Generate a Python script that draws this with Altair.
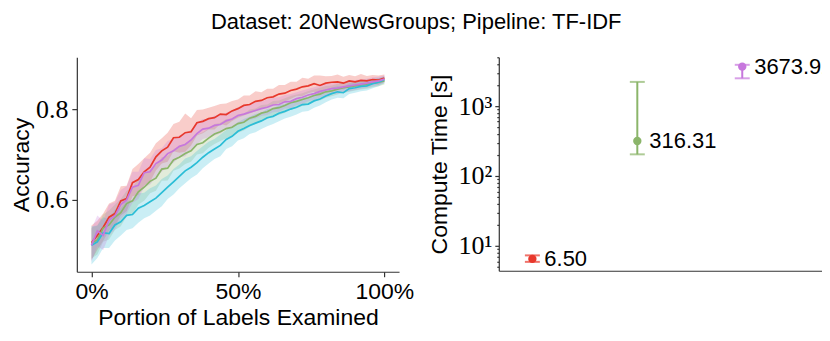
import altair as alt
import pandas as pd

# ---------------- data ----------------
series_names = ["red", "green", "cyan", "purple"]
series_colors = ["#E8382C", "#8BB56A", "#2BBDD6", "#C777DD"]

pct = [0, 2, 4, 6, 8, 10, 12, 14, 16, 18, 20, 22, 24, 26, 28, 30, 32, 34, 36, 38,
       40, 42, 44, 46, 48, 50, 52, 54, 56, 58, 60, 62, 64, 66, 68, 70, 72, 74, 76, 78,
       80, 82, 84, 86, 88, 90, 92, 94, 96, 98, 100]

red_mean = [0.506, 0.522, 0.540, 0.562, 0.570, 0.598, 0.603, 0.638, 0.645, 0.662,
            0.672, 0.695, 0.708, 0.716, 0.737, 0.738, 0.748, 0.750, 0.770, 0.773,
            0.779, 0.781, 0.789, 0.788, 0.796, 0.801, 0.808, 0.810, 0.817, 0.819,
            0.825, 0.827, 0.833, 0.835, 0.841, 0.844, 0.849, 0.851, 0.856, 0.852,
            0.857, 0.859, 0.860, 0.857, 0.862, 0.860, 0.863, 0.862, 0.865, 0.864, 0.868]
red_hw = [0.038, 0.032, 0.030, 0.030, 0.028, 0.032, 0.028, 0.030, 0.034, 0.030,
          0.032, 0.030, 0.028, 0.032, 0.030, 0.034, 0.042, 0.030, 0.028, 0.026,
          0.024, 0.026, 0.022, 0.024, 0.022, 0.020, 0.022, 0.020, 0.022, 0.018,
          0.020, 0.018, 0.020, 0.018, 0.019, 0.016, 0.020, 0.016, 0.018, 0.022,
          0.015, 0.014, 0.016, 0.014, 0.013, 0.012, 0.014, 0.011, 0.010, 0.010, 0.008]

purple_mean = [0.500, 0.532, 0.522, 0.556, 0.565, 0.590, 0.600, 0.628, 0.632, 0.660,
               0.662, 0.680, 0.688, 0.702, 0.708, 0.718, 0.722, 0.732, 0.746, 0.756,
               0.758, 0.764, 0.766, 0.774, 0.778, 0.786, 0.789, 0.793, 0.797, 0.801,
               0.804, 0.809, 0.810, 0.816, 0.817, 0.823, 0.826, 0.831, 0.834, 0.839,
               0.842, 0.845, 0.846, 0.849, 0.851, 0.853, 0.855, 0.857, 0.860, 0.862, 0.866]
purple_hw = [0.036, 0.034, 0.032, 0.034, 0.030, 0.032, 0.030, 0.034, 0.030, 0.032,
             0.028, 0.030, 0.026, 0.028, 0.026, 0.024, 0.026, 0.022, 0.024, 0.022,
             0.020, 0.022, 0.020, 0.018, 0.020, 0.018, 0.019, 0.017, 0.018, 0.016,
             0.017, 0.016, 0.016, 0.015, 0.016, 0.014, 0.015, 0.014, 0.014, 0.013,
             0.013, 0.012, 0.012, 0.011, 0.012, 0.011, 0.010, 0.010, 0.010, 0.009, 0.008]

green_mean = [0.505, 0.512, 0.538, 0.545, 0.562, 0.572, 0.592, 0.598, 0.618, 0.628,
              0.641, 0.648, 0.668, 0.670, 0.688, 0.694, 0.702, 0.708, 0.722, 0.726,
              0.736, 0.745, 0.750, 0.757, 0.760, 0.768, 0.771, 0.780, 0.784, 0.791,
              0.794, 0.801, 0.803, 0.808, 0.814, 0.817, 0.821, 0.825, 0.830, 0.833,
              0.838, 0.840, 0.844, 0.847, 0.849, 0.851, 0.853, 0.855, 0.857, 0.859, 0.862]
green_hw = [0.034, 0.032, 0.030, 0.032, 0.028, 0.030, 0.028, 0.030, 0.028, 0.030,
            0.026, 0.028, 0.026, 0.027, 0.024, 0.025, 0.023, 0.024, 0.022, 0.023,
            0.021, 0.022, 0.020, 0.021, 0.019, 0.020, 0.018, 0.019, 0.017, 0.018,
            0.016, 0.017, 0.016, 0.016, 0.015, 0.015, 0.014, 0.015, 0.013, 0.014,
            0.013, 0.012, 0.012, 0.011, 0.011, 0.010, 0.010, 0.010, 0.009, 0.009, 0.008]

cyan_mean = [0.500, 0.508, 0.528, 0.526, 0.545, 0.552, 0.566, 0.568, 0.582, 0.588,
             0.596, 0.604, 0.616, 0.628, 0.640, 0.652, 0.664, 0.672, 0.682, 0.694,
             0.704, 0.712, 0.720, 0.733, 0.740, 0.751, 0.757, 0.764, 0.769, 0.774,
             0.781, 0.784, 0.791, 0.795, 0.800, 0.804, 0.810, 0.811, 0.818, 0.822,
             0.829, 0.834, 0.838, 0.836, 0.845, 0.847, 0.850, 0.851, 0.856, 0.859, 0.865]
cyan_hw = [0.042, 0.036, 0.034, 0.032, 0.034, 0.030, 0.032, 0.030, 0.032, 0.028,
           0.030, 0.028, 0.030, 0.026, 0.028, 0.026, 0.027, 0.024, 0.026, 0.024,
           0.024, 0.022, 0.024, 0.021, 0.022, 0.020, 0.021, 0.019, 0.020, 0.018,
           0.019, 0.017, 0.018, 0.016, 0.017, 0.016, 0.016, 0.015, 0.015, 0.014,
           0.014, 0.013, 0.013, 0.012, 0.012, 0.011, 0.011, 0.010, 0.010, 0.009, 0.008]

# compute time panel
ct_series = ["red", "green", "purple"]
ct_pos = [0, 1, 2]
ct_value = [6.50, 316.31, 3673.92]
ct_low = [5.9, 204, 2500]
ct_high = [7.3, 2220, 3900]
ct_label = ["6.50", "316.31", "3673.92"]

# ---------------- frames ----------------
curves = {"red": (red_mean, red_hw), "green": (green_mean, green_hw),
          "cyan": (cyan_mean, cyan_hw), "purple": (purple_mean, purple_hw)}
rows = []
for name in series_names:
    m, hw = curves[name]
    for p, v, h in zip(pct, m, hw):
        rows.append({"pct": p, "series": name, "mean": v, "lo": v - h, "hi": v + h})
df_left = pd.DataFrame(rows)

df_right = pd.DataFrame({"pos": ct_pos, "series": ct_series, "val": ct_value,
                         "lo": ct_low, "hi": ct_high, "label": ct_label})

SANS = "Liberation Sans"
SERIF = "Liberation Serif"
AX = "#333333"

color = alt.Color("series:N", scale=alt.Scale(domain=series_names, range=series_colors), legend=None)

xl = alt.X("pct:Q", scale=alt.Scale(domain=[-5, 105], nice=False, zero=False),
           axis=alt.Axis(values=[0, 50, 100], labelExpr="datum.value + '%'",
                         title="Portion of Labels Examined", labelFont=SANS, labelFontSize=23,
                         titleFontSize=23, labelPadding=4, titlePadding=3, labelFlush=False))
yscale_l = alt.Scale(domain=[0.442, 0.914], nice=False, zero=False)
yl_axis = alt.Axis(values=[0.6, 0.8], format=".1f", title="Accuracy", labelFont=SERIF,
                   labelFontSize=26, titleFontSize=23, labelPadding=4, titlePadding=2)

left_base = alt.Chart(df_left)
bands = left_base.mark_area(opacity=0.25).encode(
    x=xl, y=alt.Y("lo:Q", scale=yscale_l, axis=yl_axis), y2="hi:Q", color=color,
    detail="series:N")
lines = left_base.mark_line(strokeWidth=1.7).encode(
    x=xl, y=alt.Y("mean:Q", scale=yscale_l, axis=yl_axis), color=color, detail="series:N")
left = alt.layer(bands, lines).properties(width=323, height=215)

# right panel
minor_vals = [5, 6, 7, 8, 9, 10, 20, 30, 40, 50, 60, 70, 80, 90, 100, 200, 300, 400, 500,
              600, 700, 800, 900, 1000, 2000, 3000, 4000, 5000]
yr_scale = alt.Scale(type="log", domain=[4.4, 5000], nice=False)
yr_axis = alt.Axis(values=minor_vals, title="Compute Time [s]",
                   labelExpr="datum.value == 10 ? '10¹' : datum.value == 100 ? '10²' : datum.value == 1000 ? '10³' : ''",
                   tickSize={"condition": {"test": "datum.value == 10 || datum.value == 100 || datum.value == 1000", "value": 4}, "value": 2},
                   labelFont=SERIF, labelFontSize=26, titleFontSize=23, labelPadding=3, titlePadding=7)
xr = alt.X("pos:Q", scale=alt.Scale(domain=[-0.32, 2.76], nice=False, zero=False),
           axis=alt.Axis(labels=False, ticks=False, title=None))
color_r = alt.Color("series:N", scale=alt.Scale(domain=series_names, range=series_colors), legend=None)

rb = alt.Chart(df_right)
err = rb.mark_rule(strokeWidth=2).encode(x=xr, y=alt.Y("lo:Q", scale=yr_scale, axis=yr_axis), y2="hi:Q", color=color_r)
cap_lo = rb.mark_tick(orient="horizontal", size=15, thickness=2).encode(x=xr, y=alt.Y("lo:Q", scale=yr_scale), color=color_r)
cap_hi = rb.mark_tick(orient="horizontal", size=15, thickness=2).encode(x=xr, y=alt.Y("hi:Q", scale=yr_scale), color=color_r)
pts = rb.mark_circle(size=70, opacity=1).encode(x=xr, y=alt.Y("val:Q", scale=yr_scale), color=color_r)
txt = rb.mark_text(align="left", baseline="middle", dx=12, fontSize=22, font=SANS, color="black",
                   clip=True).encode(
    x=xr, y=alt.Y("val:Q", scale=yr_scale), text="label:N")
right = alt.layer(err, cap_lo, cap_hi, pts, txt).properties(width=324, height=214)

chart = alt.hconcat(left, right, spacing=14).properties(
    title=alt.TitleParams("Dataset: 20NewsGroups; Pipeline: TF-IDF", font=SANS, fontSize=22,
                          fontWeight="normal", anchor="middle", offset=23, color="black"),
    padding={"left": 2, "top": 2, "right": 0, "bottom": 0}
).configure_view(stroke=None).configure_axis(
    grid=False, domainColor=AX, tickColor=AX, labelColor="black", titleColor="black",
    titleFont=SANS, titleFontWeight="normal", domainWidth=1.2, tickWidth=1.2
).configure_concat(spacing=14)

chart.save("out.html", embed_options={"renderer": "svg", "actions": False})
